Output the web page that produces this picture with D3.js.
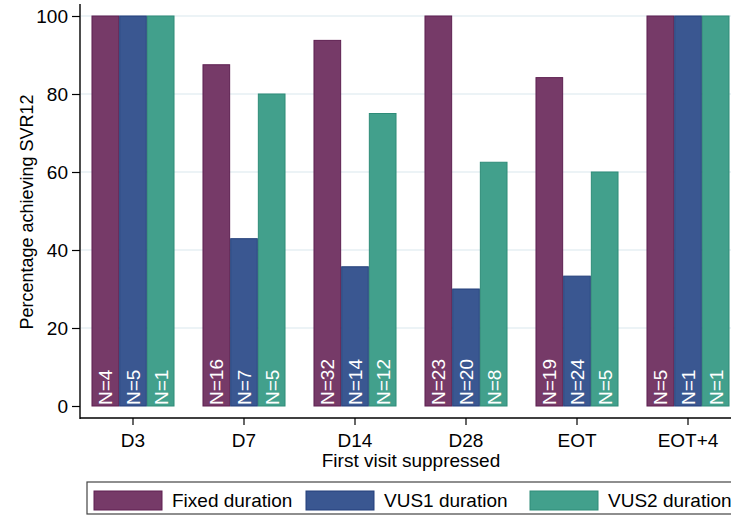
<!DOCTYPE html>
<html><head><meta charset="utf-8">
<script src="https://cdn.jsdelivr.net/npm/d3@7"></script>
<style>body{margin:0;background:#fff;}svg{display:block;font-family:Arial,"Liberation Sans",sans-serif;}</style>
</head><body>
<svg id="c" width="731" height="517"></svg>
<script>
const categories = ["D3","D7","D14","D28","EOT","EOT+4"];
const seriesNames = ["Fixed duration","VUS1 duration","VUS2 duration"];
const fixedVals = [100, 87.5, 93.75, 100, 84.2, 100];
const vus1Vals = [100, 42.9, 35.7, 30, 33.3, 100];
const vus2Vals = [100, 80, 75, 62.5, 60, 100];
const fixedN = [4, 16, 32, 23, 19, 5];
const vus1N = [5, 7, 14, 20, 24, 1];
const vus2N = [1, 5, 12, 8, 5, 1];
const yTicks = [0, 20, 40, 60, 80, 100];
const colors = ["#763A68", "#3A5791", "#42A08C"];
const strokes = ["#5E1F50", "#233F7A", "#2E8C78"];

const FF = "Arial,'Liberation Sans',sans-serif";
const vals = [fixedVals, vus1Vals, vus2Vals];
const ns = [fixedN, vus1N, vus2N];
const data = categories.map((c, i) => ({cat: c, bars: seriesNames.map((s, j) => ({s, j, v: vals[j][i], n: ns[j][i]}))}));

const svg = d3.select("#c");
const y = d3.scaleLinear().domain([0, 100]).range([406, 16]);
const x0 = d3.scaleBand().domain(categories).range([77.5, 743.5]).paddingInner(0.252).paddingOuter(0.126);
const x1 = d3.scaleBand().domain(seriesNames).range([0, x0.bandwidth()]);

// gridlines
svg.append("g").selectAll("line").data(yTicks.filter(t => t > 0)).join("line")
  .attr("x1", 81).attr("x2", 731).attr("y1", d => y(d)).attr("y2", d => y(d))
  .attr("stroke", "#E6EFF3").attr("stroke-width", 1.3);

// bars
const g = svg.append("g").selectAll("g").data(data).join("g")
  .attr("transform", d => `translate(${x0(d.cat)},0)`);
g.selectAll("rect").data(d => d.bars).join("rect")
  .attr("x", d => x1(d.s) + 0.5).attr("width", x1.bandwidth() - 1)
  .attr("y", d => y(d.v)).attr("height", d => y(0) - y(d.v))
  .attr("fill", d => colors[d.j]).attr("stroke", d => strokes[d.j]).attr("stroke-width", 1);
g.selectAll("text").data(d => d.bars).join("text")
  .attr("transform", d => `translate(${x1(d.s) + x1.bandwidth() / 2 + 7},${y(0) - 1}) rotate(-90)`)
  .attr("fill", "#fff").attr("font-size", 19).text(d => "N=" + d.n);

// y axis
const ya = svg.append("g").attr("transform", "translate(80,0)")
  .call(d3.axisLeft(y).tickValues(yTicks).tickSize(8).tickPadding(4));
ya.select(".domain").remove();
ya.selectAll("line").attr("stroke", "#000").attr("stroke-width", 1.2);
ya.selectAll("text").attr("font-size", 19).attr("fill", "#000").attr("font-family", FF);
svg.append("line").attr("x1", 80).attr("x2", 80).attr("y1", 4).attr("y2", 419).attr("stroke", "#000").attr("stroke-width", 1.4);

// x axis
const xa = svg.append("g").attr("transform", "translate(0,418)")
  .call(d3.axisBottom(x0).tickSize(7).tickPadding(9));
xa.select(".domain").remove();
xa.selectAll("line").attr("stroke", "#000").attr("stroke-width", 1.2);
xa.selectAll("text").attr("font-size", 19).attr("fill", "#000").attr("font-family", FF);
svg.append("line").attr("x1", 80).attr("x2", 731).attr("y1", 418).attr("y2", 418).attr("stroke", "#000").attr("stroke-width", 1.4);

// axis titles
svg.append("text").attr("x", 411).attr("y", 467).attr("text-anchor", "middle").attr("font-size", 19).text("First visit suppressed");
svg.append("text").attr("transform", "translate(33,212) rotate(-90)").attr("text-anchor", "middle").attr("font-size", 18).text("Percentage achieving SVR12");

// legend
svg.append("rect").attr("x", 87).attr("y", 482).attr("width", 660).attr("height", 32).attr("fill", "#fff").attr("stroke", "#444").attr("stroke-width", 1.2);
const legX = [94, 306, 530];
const lg = svg.append("g").selectAll("g").data(seriesNames).join("g").attr("transform", (d, i) => `translate(${legX[i]},491)`);
lg.append("rect").attr("width", 68).attr("height", 19).attr("fill", (d, i) => colors[i]).attr("stroke", (d, i) => strokes[i]);
lg.append("text").attr("x", 78).attr("y", 16).attr("font-size", 19).text(d => d);
</script>
</body></html>
